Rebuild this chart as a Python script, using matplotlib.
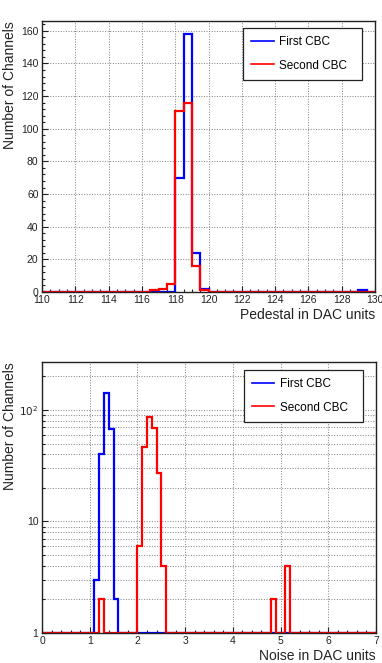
import numpy as np
import matplotlib
matplotlib.use("Agg")
import matplotlib.pyplot as plt
from matplotlib.lines import Line2D
from matplotlib.ticker import MultipleLocator, FixedLocator, FixedFormatter, NullFormatter

plt.rcParams['font.family'] = ['Liberation Sans', 'DejaVu Sans']

# pedestal histogram: 40 bins of 0.5 from 110 to 130
ped_edges = np.arange(110, 130.01, 0.5)
ped_first = [0, 0, 0, 0, 0, 0, 0, 0, 0, 0,
             0, 0, 0, 0, 0, 0, 70, 158, 24, 2,
             0, 0, 0, 0, 0, 0, 0, 0, 0, 0,
             0, 0, 0, 0, 0, 0, 0, 0, 1, 0]
ped_second = [0, 0, 0, 0, 0, 0, 0, 0, 0, 0,
              0, 0, 0, 1, 2, 5, 111, 116, 16, 1,
              0, 0, 0, 0, 0, 0, 0, 0, 0, 0,
              0, 0, 0, 0, 0, 0, 0, 0, 0, 0]

# noise histogram: 70 bins of 0.1 from 0 to 7
noise_edges = np.arange(0, 7.001, 0.1)
noise_first = [0, 0, 0, 0, 0, 0, 0, 0, 0, 0,
               0, 3, 40, 142, 68, 2, 0, 0, 0, 0,
               0, 0, 0, 0, 0, 0, 0, 0, 0, 0,
               0, 0, 0, 0, 0, 0, 0, 0, 0, 0,
               0, 0, 0, 0, 0, 0, 0, 0, 0, 0,
               0, 0, 0, 0, 0, 0, 0, 0, 0, 0,
               0, 0, 0, 0, 0, 0, 0, 0, 0, 0]
noise_second = [0, 0, 0, 0, 0, 0, 0, 0, 0, 0,
                0, 0, 2, 0, 0, 0, 0, 0, 0, 0,
                6, 47, 87, 69, 27, 4, 0, 0, 0, 0,
                0, 0, 0, 0, 0, 0, 0, 0, 0, 0,
                0, 0, 0, 0, 0, 0, 0, 0, 2, 0,
                0, 4, 0, 0, 0, 0, 0, 0, 0, 0,
                0, 0, 0, 0, 0, 0, 0, 0, 0, 0]

labels = ['First CBC', 'Second CBC']
colors = ['#0000ff', '#ff0000']

W, H = 382, 663
fig = plt.figure(figsize=(W / 100, H / 100), dpi=100)

def px_axes(l, t, r, b):
    return fig.add_axes([l / W, 1 - b / H, (r - l) / W, (b - t) / H])

grid_kw = dict(color='#8a8a8a', linestyle=(0, (1, 1.5)), linewidth=0.75)

def style(ax):
    for s in ax.spines.values():
        s.set_linewidth(1.0)
        s.set_color('#222222')
    ax.tick_params(which='both', direction='in', top=False, right=False,
                   labelsize=7.5, colors='#222222', pad=2.5)
    ax.tick_params(which='major', length=4.5, width=0.8)
    ax.tick_params(which='minor', length=2.3, width=0.8)
    ax.set_axisbelow(True)

def add_legend(ax, box):
    handles = [Line2D([], [], color=c, lw=1.2) for c in colors]
    leg = ax.legend(handles, labels, loc='upper left', bbox_to_anchor=box,
                    mode='expand', frameon=True, fancybox=False,
                    edgecolor='#222222', framealpha=1, fontsize=8.5,
                    handlelength=1.9, handletextpad=0.45, labelspacing=0.95,
                    borderpad=0.7, borderaxespad=0)
    leg.get_frame().set_linewidth(0.9)

# ---- top: pedestal ----
ax1 = px_axes(42, 21, 375, 292)
ax1.stairs(ped_first, ped_edges, color=colors[0], lw=1.6, baseline=None)
ax1.stairs(ped_second, ped_edges, color=colors[1], lw=1.6, baseline=None)
ax1.set_xlim(110, 130)
ax1.set_ylim(0, 166)
ax1.xaxis.set_major_locator(MultipleLocator(2))
ax1.xaxis.set_minor_locator(MultipleLocator(0.5))
ax1.yaxis.set_major_locator(MultipleLocator(20))
ax1.yaxis.set_minor_locator(MultipleLocator(4))
ax1.grid(True, which='major', **grid_kw)
style(ax1)
ax1.set_xlabel('Pedestal in DAC units', fontsize=10, loc='right', color='#222222')
ax1.set_ylabel('Number of Channels', fontsize=10, loc='top', color='#222222')
ax1.xaxis.set_label_coords(1.0, -0.06)
ax1.yaxis.set_label_coords(-0.076, 1.0)
add_legend(ax1, (0.604, 0.790, 0.357, 0.184))

# ---- bottom: noise ----
ax2 = px_axes(42, 362, 376, 633)
nf = np.clip(noise_first, 1, None)
ns = np.clip(noise_second, 1, None)
ax2.stairs(nf, noise_edges, color=colors[0], lw=1.6, baseline=None)
ax2.stairs(ns, noise_edges, color=colors[1], lw=1.6, baseline=None)
ax2.set_yscale('log')
ax2.set_xlim(0, 7)
ax2.set_ylim(1, 269)
ax2.xaxis.set_major_locator(MultipleLocator(1))
ax2.xaxis.set_minor_locator(MultipleLocator(0.2))
ax2.yaxis.set_major_locator(FixedLocator([1, 10, 100]))
ax2.yaxis.set_major_formatter(FixedFormatter(['1', '10', r'$10^{2}$']))
minors = [m * d for d in (1, 10, 100) for m in range(2, 10) if m * d < 269]
ax2.yaxis.set_minor_locator(FixedLocator(minors))
ax2.yaxis.set_minor_formatter(NullFormatter())
ax2.grid(True, which='major', **grid_kw)
ax2.grid(True, which='minor', axis='y', **grid_kw)
style(ax2)
ax2.set_xlabel('Noise in DAC units', fontsize=10, loc='right', color='#222222')
ax2.set_ylabel('Number of Channels', fontsize=10, loc='top', color='#222222')
ax2.xaxis.set_label_coords(1.0, -0.06)
ax2.yaxis.set_label_coords(-0.076, 1.0)
add_legend(ax2, (0.604, 0.771, 0.357, 0.199))

fig.savefig('out.png', dpi=100)
